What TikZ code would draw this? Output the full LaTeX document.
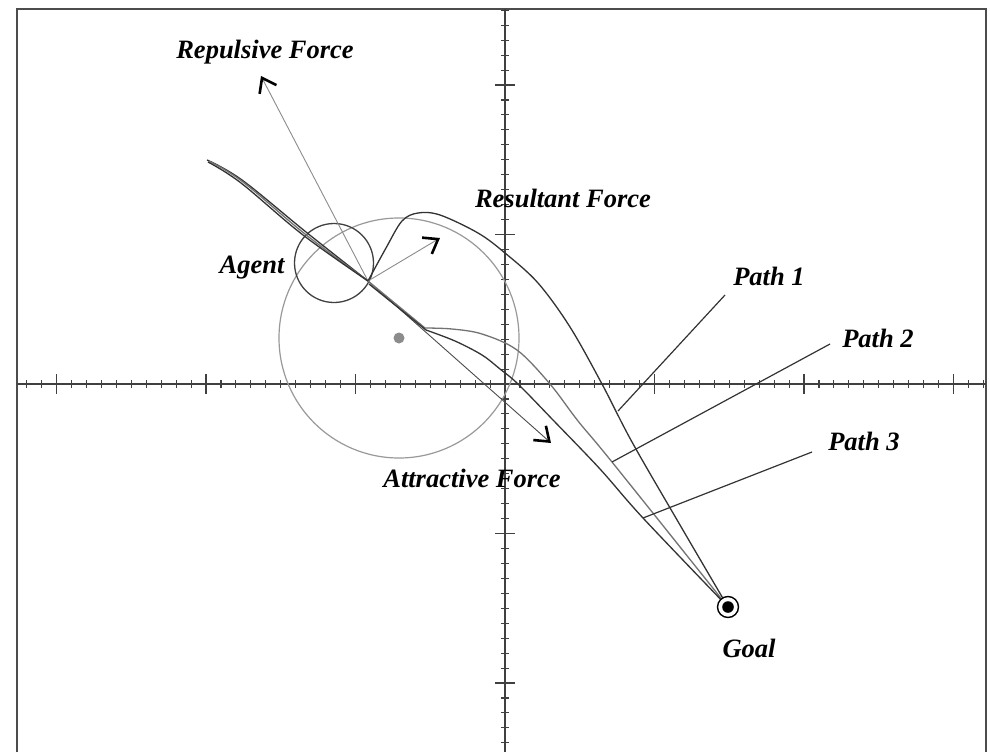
\documentclass[tikz,border=0pt]{standalone}
\usepackage{fontspec}
\setmainfont{Liberation Serif}
\usetikzlibrary{arrows.meta}
\begin{document}
\begin{tikzpicture}[x=1pt,y=-1pt,
  lbl/.style={font=\fontsize{26.5}{30}\selectfont\bfseries\itshape, inner sep=0pt},
  pathdark/.style={line width=1.3pt, black!80, line join=round},
  pathgray/.style={line width=1.3pt, black!55, line join=round},
  force/.style={line width=0.9pt, black!45, -{Straight Barb[color=black,line width=2.6pt,length=13pt,width=19pt]}},
  leader/.style={line width=1.2pt, black!80},
  axis/.style={line width=1.4pt, black!75},
  minortick/.style={line width=1.1pt, black!75},
  majortick/.style={line width=1.4pt, black!75}
]
\useasboundingbox (0,0) rectangle (990,752);
\fill[white] (0,0) rectangle (990,752);
% frame
\draw[line width=1.6pt, black!70] (17,752) -- (17,9) -- (986,9) -- (986,752);
% axes
\draw[axis] (17,384) -- (986,384);
\draw[axis] (505,9) -- (505,752);
\foreach \k in {-32,...,32} {
  \draw[minortick] ({505+14.95*\k},380) -- ({505+14.95*\k},388);
}
\foreach \k in {-3,...,3} {
  \draw[majortick] ({505+149.5*\k},374) -- ({505+149.5*\k},394);
}
\foreach \k in {-25,...,24} {
  \draw[minortick] (501,{384+14.95*\k}) -- (509,{384+14.95*\k});
}
\foreach \k in {-2,...,2} {
  \draw[majortick] (495,{384+149.5*\k}) -- (515,{384+149.5*\k});
}
% key points
\coordinate (start) at (207,160);
\coordinate (agentpt) at (368,281);
\coordinate (junc) at (425,328);
\coordinate (goalpt) at (728,607);
\coordinate (p1foot) at (618,411);
\coordinate (p2foot) at (612,462);
\coordinate (p3foot) at (643,518);
\coordinate (p1top) at (725,295);
\coordinate (p2top) at (830,344);
\coordinate (p3top) at (812,452);
% obstacle
\draw[line width=1.2pt, black!40] (399,338) circle (120);
\fill[black!45] (399,338) circle (5.5);
% agent circle
\draw[line width=1.3pt, black!75] (334,263) circle (39.5);
% forces
\draw[force] (agentpt) -- (261,76);
\draw[force] (agentpt) -- (440,238);
\draw[force, black!70] (agentpt) -- (551,443);
% paths: common approach
\draw[pathdark] plot[smooth, tension=0.6] coordinates {(start) (242,180) (306,232) (agentpt)};
\draw[pathgray] plot[smooth, tension=0.6] coordinates {(209,161) (243,182) (305,234) (agentpt)};
\draw[pathdark] plot[smooth, tension=0.6] coordinates {(208,162) (241,183) (303,235) (agentpt)};
% path 1 (loop)
\draw[pathdark] plot[smooth, tension=0.55] coordinates {(agentpt) (386,248) (402,221) (418,213) (440,215) (478,233) (505,253) (538,283) (570,327) (602,384) (632,442) (680,525) (goalpt)};
% path 2
\draw[pathgray] (agentpt) -- (junc);
\draw[pathgray] plot[smooth, tension=0.55] coordinates {(junc) (452,329) (482,334) (517,350) (550,384) (578,421) (612,462) (goalpt)};
% path 3
\draw[pathdark] (369,284) -- (426,330);
\draw[pathdark] plot[smooth, tension=0.55] coordinates {(426,330) (455,341) (482,355) (500,369) (518,384) (553,420) (600,469) (643,518) (goalpt)};
% goal
\node[circle, draw, line width=1.4pt, minimum size=21pt, inner sep=0pt, fill=white] (goal) at (goalpt) {};
\fill (goal.center) circle (5.8);
% labels
\node[lbl] (repl) at (265,52) {Repulsive Force};
\node[lbl] (resl) at (563,198) {Resultant Force};
\node[lbl] (attl) at (472,478) {Attractive Force};
\node[lbl] (agentl) at (252,268) {Agent};
\node[lbl] (p1l) at (769,276) {Path 1};
\node[lbl] (p2l) at (878,338) {Path 2};
\node[lbl] (p3l) at (864,441) {Path 3};
\node[lbl] (goall) at (749,648) {Goal};
% leaders
\draw[leader] (p1top) -- (p1foot);
\draw[leader] (p2top) -- (p2foot);
\draw[leader] (p3top) -- (p3foot);
\end{tikzpicture}
\end{document}
